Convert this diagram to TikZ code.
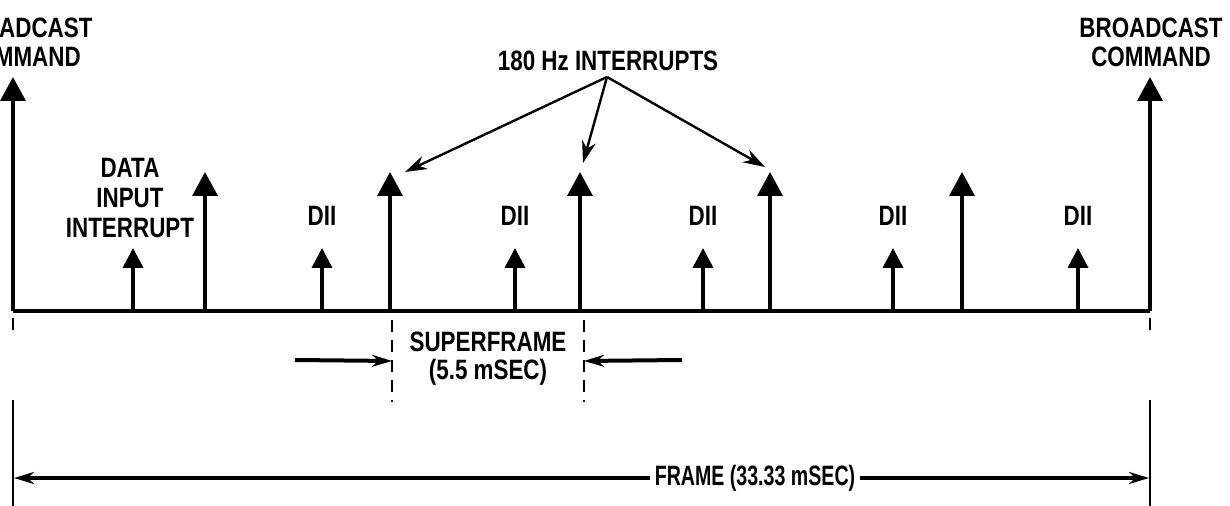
\documentclass[tikz,border=0pt]{standalone}
\usepackage{fontspec}
\setmainfont{Liberation Sans}[FakeStretch=0.8]
\newfontfamily\narrowfont{Liberation Sans}[FakeStretch=0.7]
\usetikzlibrary{arrows.meta, positioning, calc}

\begin{document}
\begin{tikzpicture}[x=0.5pt, y=-0.5pt, >=Stealth,
    every node/.style={font=\bfseries\fontsize{14}{14.5}\selectfont, align=center, inner sep=0pt},
    spike/.style={line width=1.8pt, -{Triangle[width=12.5pt, length=12pt]}},
    dii/.style={line width=1.8pt, -{Triangle[width=10pt, length=10pt]}},
    pointer/.style={line width=1.2pt, -{Stealth[width=7pt, length=11pt]}},
    dim/.style={line width=2pt, -{Stealth[width=6pt, length=10pt]}},
    guide/.style={line width=0.9pt, dash pattern=on 6pt off 4pt},
    endline/.style={line width=0.9pt, dash pattern=on 6pt off 35pt on 60pt off 2pt},
]
\useasboundingbox (0,0) rectangle (1230,506);
\clip (0,0) rectangle (1230,506);

% time line
\coordinate (t0) at (13,311);
\coordinate (t1) at (1150,311);
\draw[line width=2.2pt] (t0) -- (t1);

% broadcast commands
\coordinate (bl) at (13,77);
\coordinate (br) at (1150,77);
\draw[spike] (t0) -- (bl);
\draw[spike] (t1) -- (br);
\node (bcl) at (21,42) {BROADCAST\\COMMAND};
\node (bcr) at (1151,42) {BROADCAST\\COMMAND};

% 180 Hz interrupts
\foreach \x [count=\i] in {205,390,580,770,962} {
    \coordinate (hzb\i) at (\x,311);
    \coordinate (hz\i) at (\x,172);
    \draw[spike] (hzb\i) -- (hz\i);
}

% data input interrupts
\foreach \x [count=\i] in {133,322,515,703,893,1078} {
    \coordinate (dib\i) at (\x,311);
    \coordinate (di\i) at (\x,248);
    \draw[dii] (dib\i) -- (di\i);
}
\node[font=\bfseries\fontsize{14}{15}\selectfont] (data) at (130,198) {DATA\\INPUT\\INTERRUPT};
\foreach \i in {2,...,6} {
    \node[above=11pt of di\i] (dii\i) {DII};
}

% pointers
\node (hz) at (608,61) {180 Hz INTERRUPTS};
\coordinate (apex) at (607,77);
\draw[pointer] (apex) -- ($(hz2)+(15,0)$);
\draw[pointer] (apex) -- ($(hz3)+(3,-9)$);
\draw[pointer] (apex) -- ($(hz4)+(-5,-5)$);

% superframe
\coordinate (sa) at (392,320);
\coordinate (sb) at (392,402);
\coordinate (sc) at (584,320);
\coordinate (sd) at (584,402);
\draw[guide] (sa) -- (sb);
\draw[guide] (sc) -- (sd);
\coordinate (sl) at (295,360);
\coordinate (sr) at (682,360);
\draw[dim] (sl) -- ($(sa)!0.5!(sb)$);
\draw[dim] (sr) -- ($(sc)!0.5!(sd)$);
\node[font=\bfseries\fontsize{14}{14}\selectfont] (super) at (488,359) {SUPERFRAME\\(5.5 mSEC)};

% frame
\coordinate (fa) at (13,318);
\coordinate (fb) at (13,510);
\coordinate (fc) at (1150,318);
\coordinate (fd) at (1150,510);
\draw[endline] (fa) -- (fb);
\draw[endline] (fc) -- (fd);
\node[inner sep=2pt, font=\narrowfont\bfseries\fontsize{14}{14}\selectfont] (frame) at (755,478) {FRAME (33.33 mSEC)};
\draw[dim] (frame.west) -- (14,478);
\draw[dim] (frame.east) -- (1149,478);

\end{tikzpicture}
\end{document}
